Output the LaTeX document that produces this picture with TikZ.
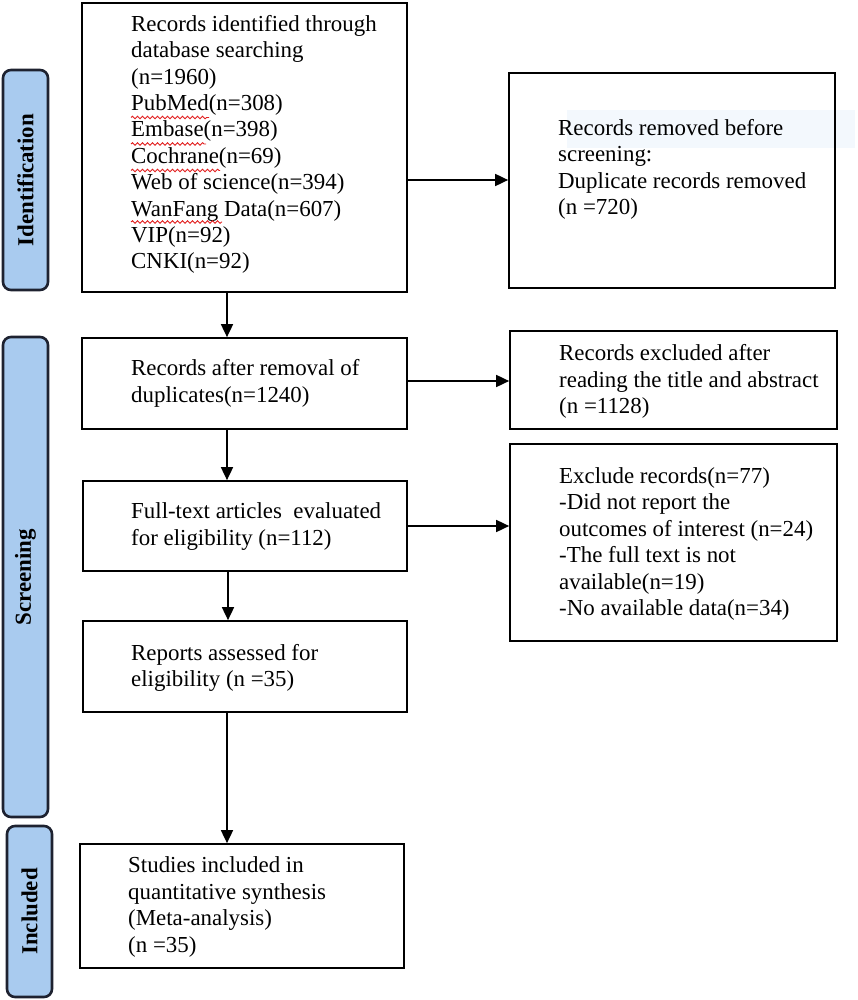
\documentclass[tikz,border=0pt]{standalone}
\usepackage{fontspec}
\setmainfont{Liberation Serif}
\usetikzlibrary{arrows.meta,decorations.pathmorphing}
\definecolor{phasefill}{RGB}{169,203,239}
\definecolor{phaseline}{RGB}{30,34,48}
\definecolor{faintband}{RGB}{243,248,253}
\definecolor{spellred}{RGB}{225,30,30}
\begin{document}
\begin{tikzpicture}[x=1pt,y=-1pt,
  box/.style={draw=black,line width=1.7pt,inner sep=0pt},
  txt/.style={anchor=west,align=left,inner sep=0pt,font=\fontsize{22.9}{26.4}\selectfont},
  phase/.style={draw=phaseline,line width=2.6pt,fill=phasefill,rounded corners=8pt,
    rotate=90,inner sep=0pt,font=\fontsize{22.9}{26.4}\selectfont\bfseries},
  flow/.style={line width=1.7pt,-{Triangle[length=13pt,width=12pt]}},
  squiggle/.style={draw=spellred,line width=0.9pt,decorate,
    decoration={snake,amplitude=1.3pt,segment length=5pt}}]
\useasboundingbox (0,0) rectangle (858,1000);

% phase labels
\node[phase,minimum width=220pt,minimum height=45pt] (ident) at (25.5,180) {Identification};
\node[phase,minimum width=480pt,minimum height=45pt] (screen) at (25.5,577) {Screening};
\node[phase,minimum width=171pt,minimum height=45pt] (incl) at (29.5,911.5) {Included};

% faint band behind second box text
\fill[faintband] (567,110) rectangle (855,148);

% boxes
\node[box,minimum width=325pt,minimum height=289pt] (b1) at (244.5,147.5) {};
\node[box,minimum width=326pt,minimum height=215pt] (b2) at (672,180.5) {};
\node[box,minimum width=325pt,minimum height=91pt] (a) at (244.5,383.5) {};
\node[box,minimum width=327pt,minimum height=98pt] (x1) at (673.5,380) {};
\node[box,minimum width=324pt,minimum height=90pt] (full) at (245,526) {};
\node[box,minimum width=327pt,minimum height=197pt] (x2) at (673.5,542.5) {};
\node[box,minimum width=324pt,minimum height=91pt] (c) at (245,666.5) {};
\node[box,minimum width=324pt,minimum height=124pt] (d) at (242,906) {};

% texts
\node[txt] (t1) at (131,144.5) {Records identified through\\database searching\\(n=1960)\\PubMed(n=308)\\Embase(n=398)\\Cochrane(n=69)\\Web of science(n=394)\\WanFang Data(n=607)\\VIP(n=92)\\CNKI(n=92)};
\node[txt] (t2) at (558,169.5) {Records removed before\\screening:\\Duplicate records removed\\(n =720)};
\node[txt] (ta) at (131,383.5) {Records after removal of\\duplicates(n=1240)};
\node[txt] (tx1) at (559,381.5) {Records excluded after\\reading the title and abstract\\(n =1128)};
\node[txt] (tfull) at (131,526.5) {Full-text articles\ \ evaluated\\for eligibility (n=112)};
\node[txt] (tx2) at (559,544) {Exclude records(n=77)\\-Did not report the\\outcomes of interest (n=24)\\-The full text is not\\available(n=19)\\-No available data(n=34)};
\node[txt] (tc) at (131,668) {Reports assessed for\\eligibility (n =35)};
\node[txt] (td) at (128,907) {Studies included in\\quantitative synthesis\\(Meta-analysis)\\(n =35)};

% spell-check underlines
\draw[squiggle] (131,117.5) -- (209,117.5);
\draw[squiggle] (131,144) -- (206,144);
\draw[squiggle] (131,170.5) -- (220,170.5);
\draw[squiggle] (131,222) -- (222,222);

% connectors
\draw[flow] (b1.east |- 0,180) -- (b2.west |- 0,180);
\draw[flow] (b1.south -| 227,0) -- (a.north -| 227,0);
\draw[flow] (a.east |- 0,381) -- (x1.west |- 0,381);
\draw[flow] (a.south -| 227,0) -- (full.north -| 227,0);
\draw[flow] (full.east |- 0,526) -- (x2.west |- 0,526);
\draw[flow] (full.south -| 228,0) -- (c.north -| 228,0);
\draw[flow] (c.south -| 227,0) -- (d.north -| 227,0);
\end{tikzpicture}
\end{document}
